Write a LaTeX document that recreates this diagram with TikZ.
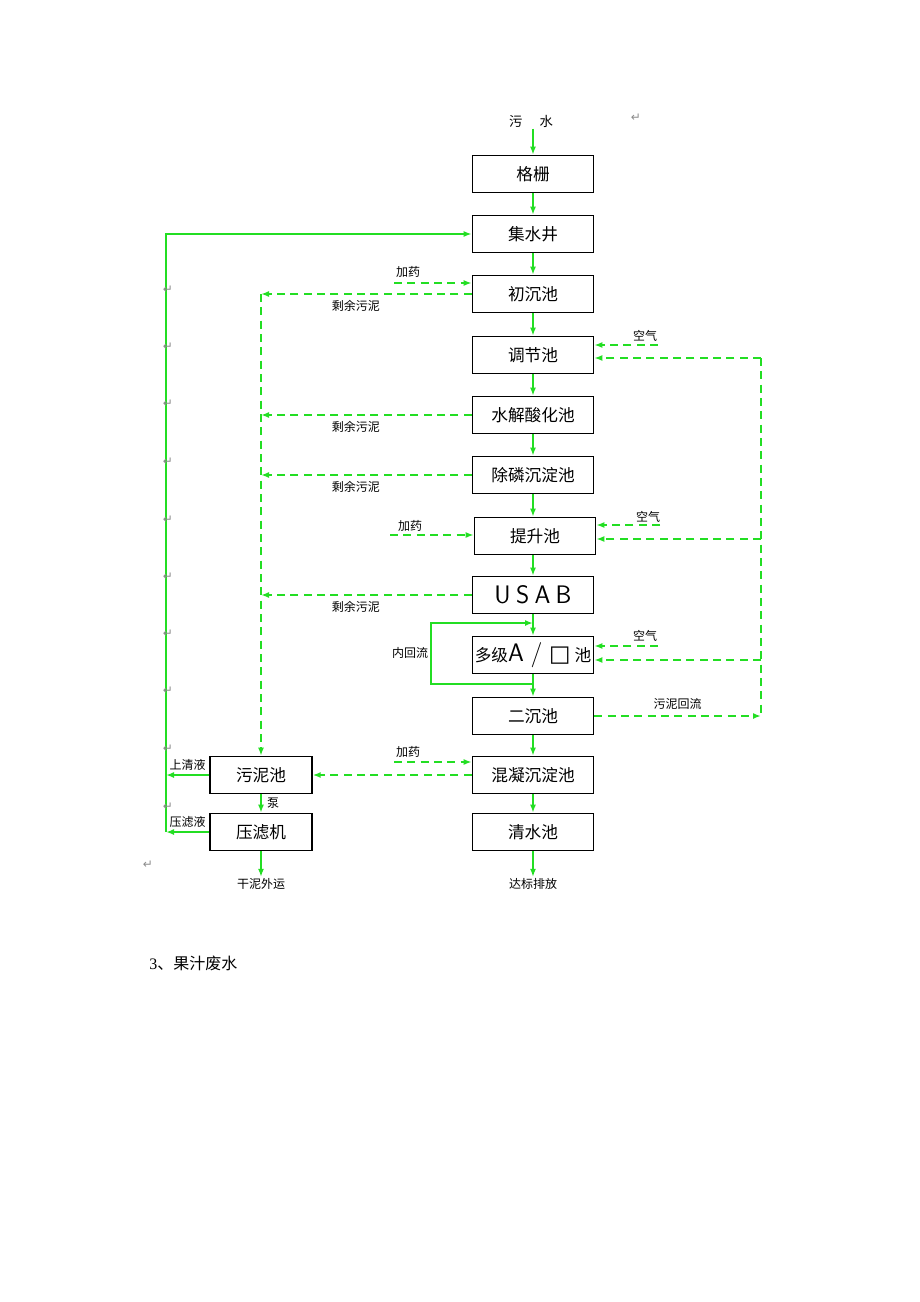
\documentclass[tikz,border=0pt]{standalone}
\usepackage{fontspec}
\setmainfont{Noto Sans CJK SC}
\newfontfamily\symfont{DejaVu Sans}
\newfontfamily\latinfont{Liberation Serif}
\usetikzlibrary{arrows.meta}
\definecolor{flowgreen}{RGB}{35,222,35}
\newcommand\usabtxt{{\sffamily\fontsize{19}{19}\selectfont U\hspace{4pt}S\hspace{4pt}A\hspace{4pt}B}}
\newcommand\aotxt{多级{\sffamily\fontsize{19}{19}\selectfont A\hspace{5pt}/\hspace{5pt}}{\symfont\fontsize{17}{17}\selectfont □}\hspace{3pt}池}

\begin{document}
\begin{tikzpicture}[x=0.75pt,y=-0.75pt]
\tikzstyle{box}=[draw=black,line width=1pt,minimum width=91pt,minimum height=28pt,inner sep=0pt,font=\fontsize{12.5}{14}\selectfont]
\tikzstyle{lbl}=[font=\fontsize{9}{10}\selectfont,inner sep=1pt]
\tikzstyle{flow}=[draw=flowgreen,line width=1.2pt,-{Latex[length=6pt,width=4.5pt]}]
\tikzstyle{sludge}=[flow,dash pattern=on 6pt off 4pt]
\tikzstyle{retmark}=[font=\symfont\fontsize{9}{9}\selectfont,text=black!45,inner sep=0pt]
\useasboundingbox (0,0) rectangle (920,1302);
\foreach \name/\point/\txt in {
	gs/{533,174}/格栅,
	jsj/{533,234}/集水井,
	ccc/{533,294}/初沉池,
	tjc/{533,355}/调节池,
	sjs/{533,415}/水解酸化池,
	clc/{533,475}/除磷沉淀池,
	tsc/{535,536}/提升池,
	usab/{533,595}/\usabtxt,
	ao/{533,655}/\aotxt,
	ecc/{533,716}/二沉池,
	hnc/{533,775}/混凝沉淀池,
	qsc/{533,832}/清水池}
	\node[box] (\name) at (\point) {\txt};
\node[box,minimum width=76.5pt] (wnc) at (261,775) {污泥池};
\node[box,minimum width=76.5pt] (ylj) at (261,832) {压滤机};
% texts
\node[lbl,font=\fontsize{10}{10}\selectfont] (ws) at (531,121) {污\hspace{1.3em}水};
\node[lbl] (db) at (533,884) {达标排放};
\node[lbl] (gnwy) at (261,884) {干泥外运};
\node[lbl] (nhl) at (410,653) {内回流};
\node[anchor=west,inner sep=0pt,font=\fontsize{12}{14}\selectfont] (cap) at (149,963) {{\latinfont 3}、果汁废水};
% main line
\draw[flow] (gs.north |- ws.south) -- (gs.north);
\foreach \a/\b in {gs/jsj,jsj/ccc,ccc/tjc,tjc/sjs,sjs/clc,clc/tsc,tsc/usab,usab/ao,ao/ecc,ecc/hnc,hnc/qsc}
	\draw[flow] (\a.south -| 533,0) -- (\b.north -| 533,0);
\draw[flow] (qsc) -- (db);
% return to collecting well
\coordinate (L0) at (166,234);
\coordinate (L1) at (166,775);
\coordinate (L2) at (166,832);
\draw[flow] (L2) -- (L0) -- (jsj.west);
\draw[flow] (wnc.west) -- (L1) node[lbl,midway,above=2pt] (sqy) {上清液};
\draw[flow] (ylj.west) -- (L2) node[lbl,midway,above=2pt] (lyy) {压滤液};
\draw[flow] (wnc) -- (ylj) node[lbl,midway,right=3pt] (beng) {泵};
\draw[flow] (ylj) -- (gnwy);
% surplus sludge
\coordinate (S0) at (261,294);
\draw[sludge] (S0) -- (wnc.north);
\foreach \src/\nm in {ccc/s1,sjs/s2,clc/s3,usab/s4}
	\draw[sludge] (\src.west) -- (\src.west -| S0) node[lbl,pos=0.55,below=3pt] (\nm) {剩余污泥};
\draw[sludge] (hnc.west) -- (wnc.east);
% dosing
\coordinate (J0) at (394,283);
\coordinate (J1) at (390,535);
\coordinate (J2) at (394,762);
\draw[sludge] (J0) -- (J0 -| ccc.west);
\draw[sludge] (J1) -- (J1 -| tsc.west);
\draw[sludge] (J2) -- (J2 -| hnc.west);
\node[lbl] (j1) at (408,272) {加药};
\node[lbl] (j2) at (410,526) {加药};
\node[lbl] (j3) at (408,752) {加药};
% air
\coordinate (A0) at (658,345);
\coordinate (A1) at (660,525);
\coordinate (A2) at (658,646);
\draw[sludge] (A0) -- (A0 -| tjc.east);
\draw[sludge] (A1) -- (A1 -| tsc.east);
\draw[sludge] (A2) -- (A2 -| ao.east);
\node[lbl] (k1) at (645,336) {空气};
\node[lbl] (k2) at (648,517) {空气};
\node[lbl] (k3) at (645,636) {空气};
% sludge return
\coordinate (R0) at (761,358);
\coordinate (R1) at (761,539);
\coordinate (R2) at (761,660);
\coordinate (R3) at (761,716);
\draw[sludge,-] (R0) -- (R3);
\draw[sludge] (R0) -- (R0 -| tjc.east);
\draw[sludge] (R1) -- (R1 -| tsc.east);
\draw[sludge] (R2) -- (R2 -| ao.east);
\draw[sludge] (ecc.east) -- (R3) node[lbl,midway,above=3pt] (whl) {污泥回流};
% internal recycle
\coordinate (N0) at (533,684);
\coordinate (N1) at (431,684);
\coordinate (N2) at (431,623);
\coordinate (N3) at (533,623);
\draw[flow] (N0) -- (N1) -- (N2) -- (N3);
% paragraph marks
\foreach \i/\point in {1/{636,118},2/{168,290},3/{168,347},4/{168,404},5/{168,462},6/{168,520},7/{168,577},8/{168,634},9/{168,691},10/{168,749},11/{168,807},12/{148,865}}
	\node[retmark] (r\i) at (\point) {↵};
\end{tikzpicture}
\end{document}
